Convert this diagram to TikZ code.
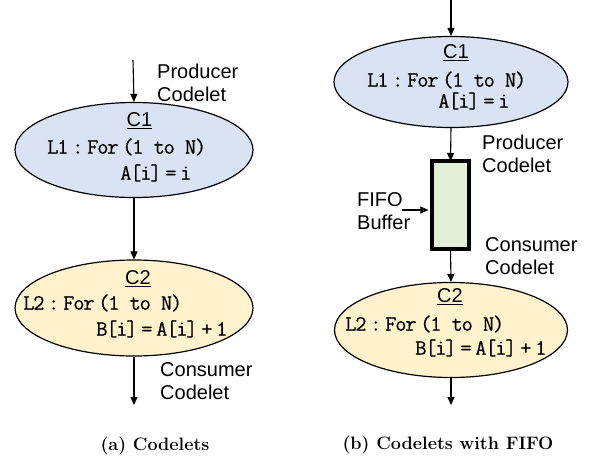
\documentclass[tikz,border=0pt]{standalone}
\usepackage{fontspec}
\setsansfont{Liberation Sans}
\newfontfamily\codefont[LetterSpace=-6,FakeBold=0.4]{Latin Modern Mono}
\usetikzlibrary{arrows.meta,shapes.geometric}
\definecolor{prodblue}{HTML}{DAE3F3}
\definecolor{consyellow}{HTML}{FFF2CC}
\definecolor{fifogreen}{HTML}{E2F0D9}

\begin{document}
\begin{tikzpicture}[x=1pt,y=-1pt,
    codelet/.style={draw,ellipse,line width=1.2pt,inner sep=0pt},
    flow/.style={-{Triangle[length=8pt,width=7pt]},line width=1.1pt},
    lbl/.style={font=\sffamily\fontsize{20}{23.5}\selectfont,align=left,anchor=west,inner sep=0pt},
    cname/.style={font=\sffamily\fontsize{20}{24}\selectfont,inner sep=0pt},
    code/.style={font=\codefont\fontsize{22}{24}\selectfont,anchor=west,inner sep=0pt},
    subcap/.style={font=\bfseries\fontsize{18}{20}\selectfont,inner sep=0pt}]
    \useasboundingbox (0,0) rectangle (590,461);
    % (a) codelets
    \coordinate (ain) at (133,60);
    \node[codelet,fill=prodblue,minimum width=238,minimum height=95] (c1a) at (134,150) {};
    \node[codelet,fill=consyellow,minimum width=238,minimum height=96] (c2a) at (134,308) {};
    \coordinate (aout) at (134,405);
    \draw[flow] (ain) -- (c1a.north);
    \draw[flow] (c1a.south) -- (c2a.north);
    \draw[flow] (c2a.south) -- (aout);
    \node[cname] (c1aname) at (139.5,121) {\underline{C1}};
    \node[code] (c1aloop) at (47,147) {L1\,:\,For\,(1 to N)};
    \node[code] (c1abody) at (120,173) {A[i]\,=\,i};
    \node[cname] (c2aname) at (138,279) {\underline{C2}};
    \node[code] (c2aloop) at (23,303) {L2\,:\,For\,(1 to N)};
    \node[code] (c2abody) at (96,329) {B[i]\,=\,A[i]\,+\,1};
    \node[lbl] (aprod) at (157,83) {Producer\\Codelet};
    \node[lbl] (acons) at (160,381) {Consumer\\Codelet};
    \node[subcap] (acap) at (155,446) {(a) Codelets};
    % (b) codelets with fifo
    \coordinate (bin) at (451,0);
    \node[codelet,fill=prodblue,minimum width=234,minimum height=91] (c1b) at (451,82) {};
    \node[draw,fill=fifogreen,line width=3.6pt,minimum width=37,minimum height=88,inner sep=0pt] (fifo) at (450.5,205) {};
    \node[codelet,fill=consyellow,minimum width=233,minimum height=95] (c2b) at (451,330) {};
    \coordinate (bout) at (451,405);
    \draw[flow] (bin) -- (c1b.north);
    \draw[flow] (c1b.south) -- ([yshift=-1.8pt]fifo.north);
    \draw[flow] ([yshift=1.8pt]fifo.south) -- (c2b.north);
    \draw[flow] (c2b.south) -- (bout);
    \node[cname] (c1bname) at (456,53) {\underline{C1}};
    \node[code] (c1bloop) at (367,80) {L1\,:\,For\,(1 to N)};
    \node[code] (c1bbody) at (438,101) {A[i]\,=\,i};
    \node[cname] (c2bname) at (450,297) {\underline{C2}};
    \node[code] (c2bloop) at (345,324) {L2\,:\,For\,(1 to N)};
    \node[code] (c2bbody) at (415,348) {B[i]\,=\,A[i]\,+\,1};
    \node[lbl] (bprod) at (482,154) {Producer\\Codelet};
    \node[lbl] (fbuf) at (357,211) {FIFO\\Buffer};
    \coordinate (fbufend) at (402,210);
    \draw[flow] (fbufend) -- ([xshift=-1.8pt]fbufend -| fifo.west);
    \node[lbl] (bcons) at (485,256) {Consumer\\Codelet};
    \node[subcap] (bcap) at (448,445) {(b) Codelets with FIFO};
\end{tikzpicture}
\end{document}
